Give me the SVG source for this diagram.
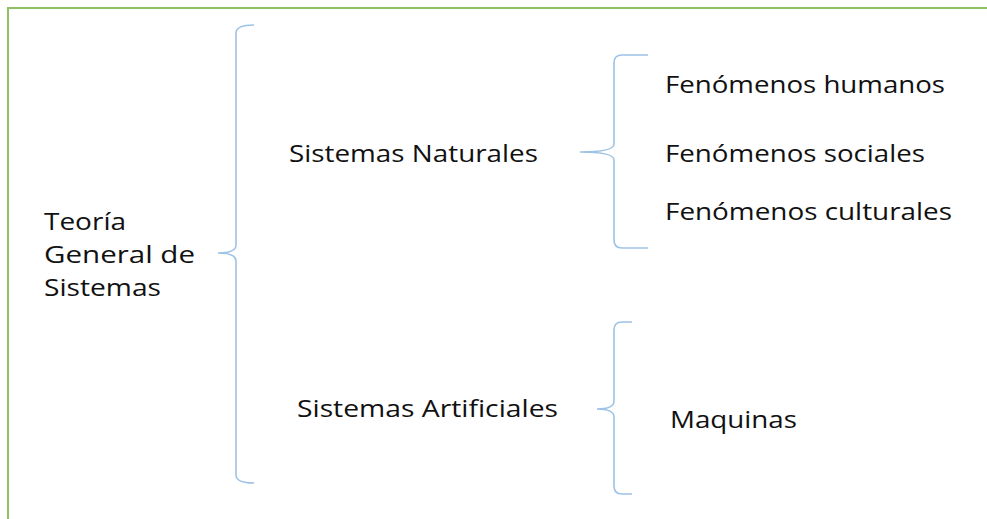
<svg xmlns="http://www.w3.org/2000/svg" width="987" height="519" viewBox="0 0 987 519">
<style>
  .t { font-family: "Open Sans", "Noto Sans", sans-serif; font-size: 24px; fill: #111; }
  .brace { fill: none; stroke: #9dc3e6; stroke-width: 1.6; }
  .frame { fill: none; stroke: #8cc060; stroke-width: 2; }
</style>
<rect width="987" height="519" fill="#ffffff"/>
<path class="frame" d="M8,519 L8,8 L987,8"/>
<g id="connectors">
  <path class="brace" d="M254,25 Q236,25 236,33 L236,245 Q236,253 218,253 Q236,253 236,261 L236,475 Q236,483 254,483"/>
  <path class="brace" d="M648,55 L622,55 Q614,55 614,63 L614,144 Q614,152 580,152 Q614,152 614,160 L614,240 Q614,248 622,248 L648,248"/>
  <path class="brace" d="M632,322 L622,322 Q614,322 614,330 L614,401 Q614,409 597,409 Q614,409 614,417 L614,486 Q614,494 622,494 L632,494"/>
</g>
<g id="node-tgs">
  <text class="t" x="44" y="230" textLength="82" lengthAdjust="spacingAndGlyphs">Teoría</text>
  <text class="t" x="44" y="263" textLength="151" lengthAdjust="spacingAndGlyphs">General  de</text>
  <text class="t" x="44" y="296" textLength="117" lengthAdjust="spacingAndGlyphs">Sistemas</text>
</g>
<g id="node-naturales">
  <text class="t" x="289" y="162" textLength="249" lengthAdjust="spacingAndGlyphs">Sistemas Naturales</text>
</g>
<g id="node-artificiales">
  <text class="t" x="297" y="417" textLength="261" lengthAdjust="spacingAndGlyphs">Sistemas Artificiales</text>
</g>
<g id="node-humanos">
  <text class="t" x="665" y="93" textLength="280" lengthAdjust="spacingAndGlyphs">Fenómenos humanos</text>
</g>
<g id="node-sociales">
  <text class="t" x="665" y="162" textLength="260" lengthAdjust="spacingAndGlyphs">Fenómenos sociales</text>
</g>
<g id="node-culturales">
  <text class="t" x="665" y="220" textLength="287" lengthAdjust="spacingAndGlyphs">Fenómenos culturales</text>
</g>
<g id="node-maquinas">
  <text class="t" x="670" y="428" textLength="127" lengthAdjust="spacingAndGlyphs">Maquinas</text>
</g>
</svg>
